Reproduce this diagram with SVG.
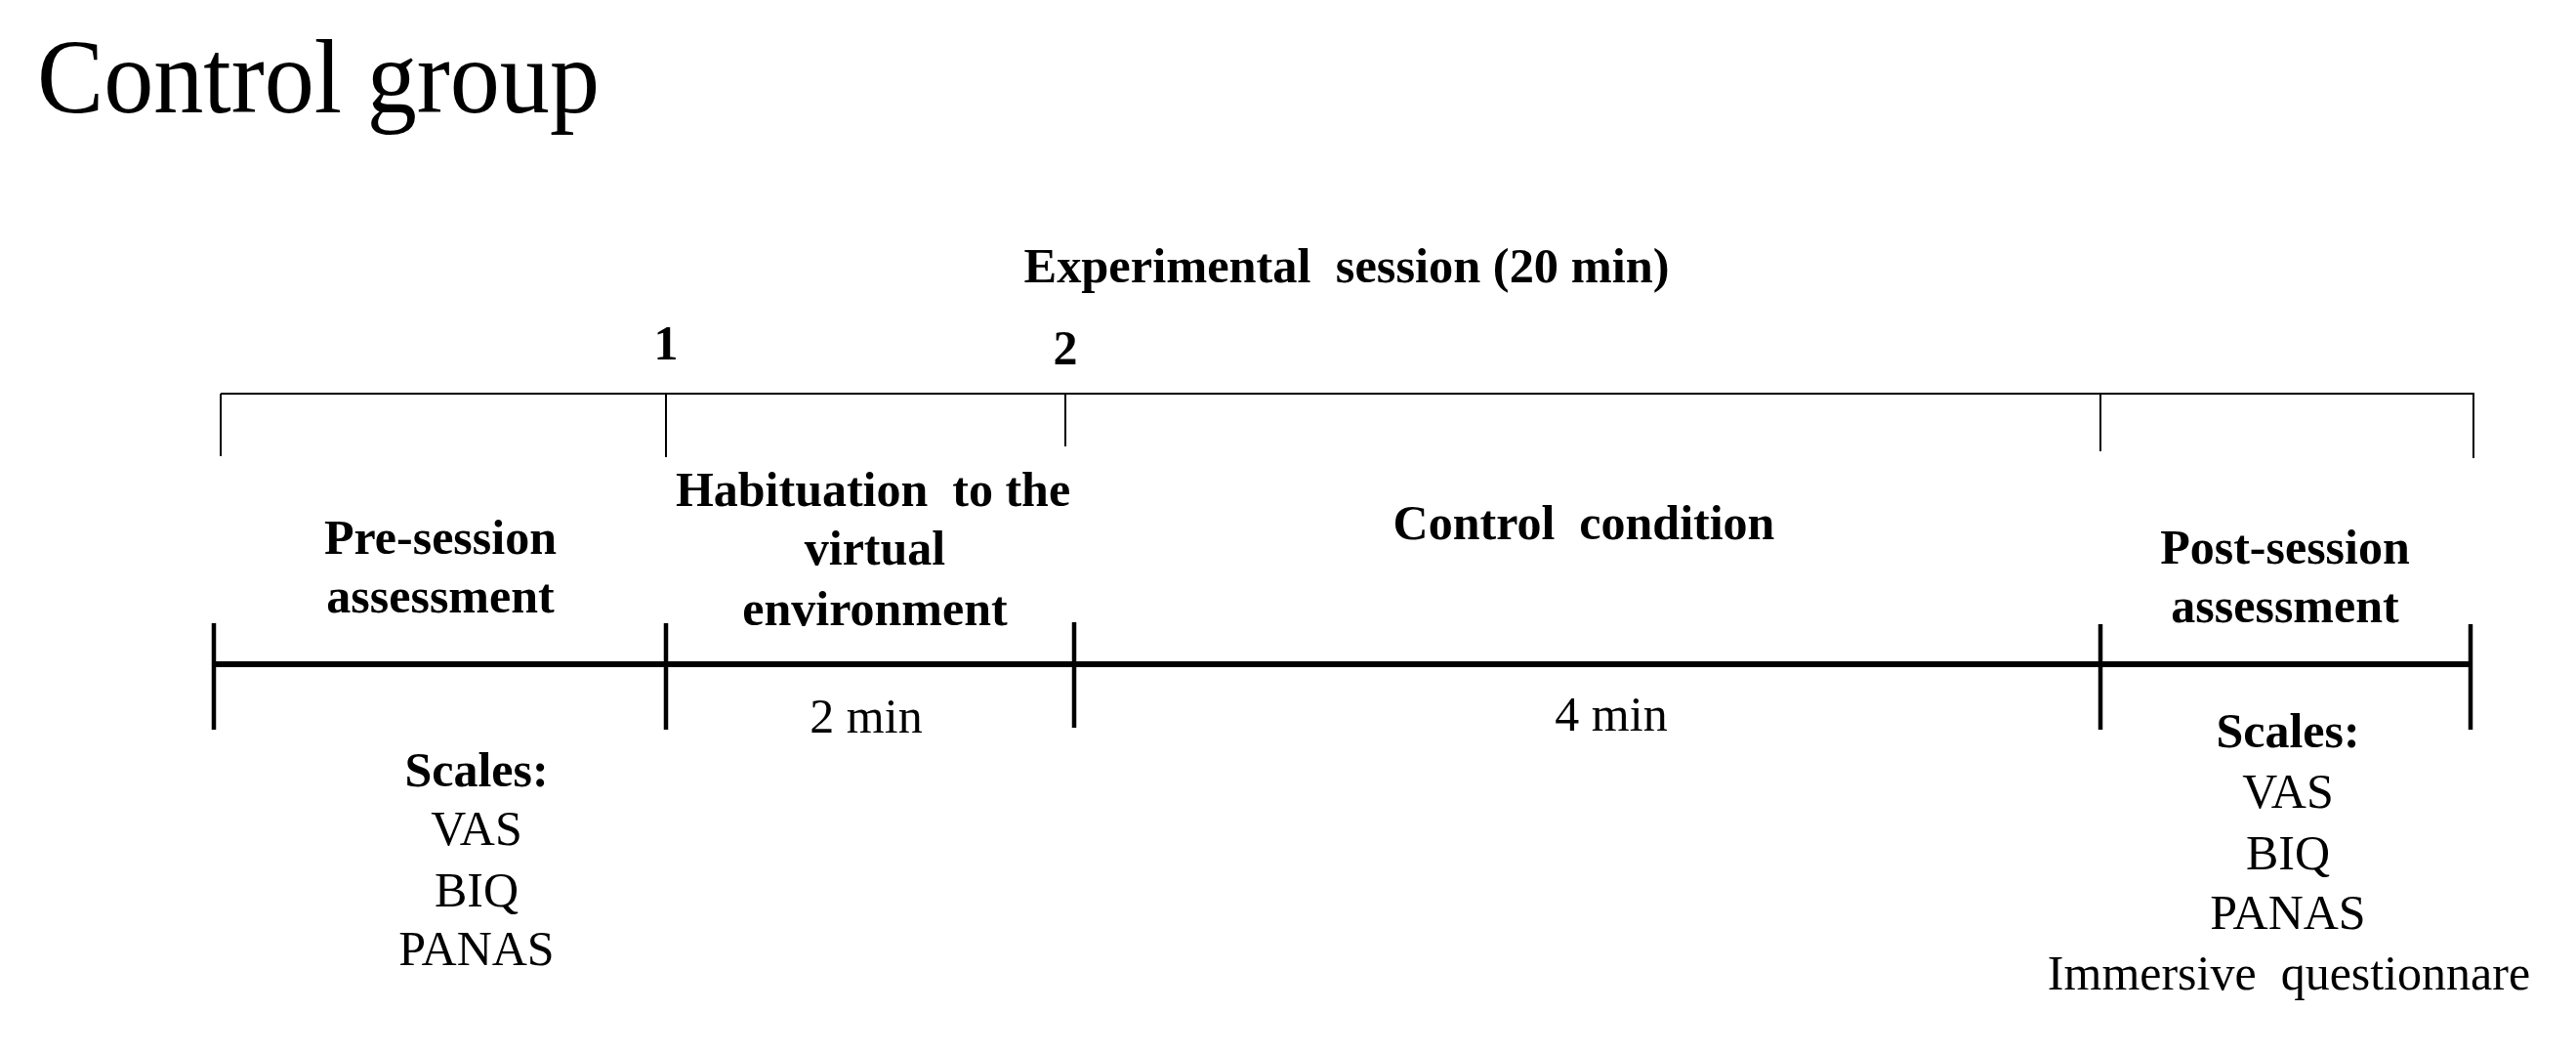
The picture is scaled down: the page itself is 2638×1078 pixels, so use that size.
<svg xmlns="http://www.w3.org/2000/svg" width="2638" height="1078" viewBox="0 0 2638 1078">
<style>
text{font-family:"Liberation Serif","Times New Roman",serif;fill:#000;}
.b{font-weight:bold;font-size:50px;text-anchor:middle;}
.r{font-size:50px;text-anchor:middle;}
.thin{stroke:#000;stroke-width:2;fill:none;}
.thick{stroke:#000;stroke-width:6;fill:none;}
.tick{stroke:#000;stroke-width:4.5;fill:none;}
</style>
<rect width="2638" height="1078" fill="#fff"/>
<g id="title"><text x="38" y="115" font-size="108" textLength="576" lengthAdjust="spacingAndGlyphs">Control group</text></g>
<g id="session-label"><text class="b" x="1379" y="289" textLength="661" lengthAdjust="spacingAndGlyphs" xml:space="preserve">Experimental  session (20 min)</text></g>
<g id="marker-1"><text class="b" x="682" y="368" font-size="54">1</text></g>
<g id="marker-2"><text class="b" x="1091" y="373" font-size="54">2</text></g>
<g id="connectors">
<path class="thin" d="M226 403 H2534"/>
<path class="thin" d="M226 403 V467 M682 403 V468 M1091 403 V457 M2151 403 V462 M2533 403 V469"/>
<path class="thick" d="M219 680 H2530"/>
<path class="tick" d="M219 638 V747 M682 638 V747 M1100 637 V745 M2151 639 V747 M2530 639 V747"/>
</g>
<g id="pre-session">
<text class="b" x="451" y="567">Pre-session</text>
<text class="b" x="451" y="627">assessment</text>
</g>
<g id="habituation">
<text class="b" x="894" y="518" xml:space="preserve">Habituation  to the</text>
<text class="b" x="896" y="578">virtual</text>
<text class="b" x="896" y="640">environment</text>
<text class="r" x="887" y="750">2 min</text>
</g>
<g id="control-condition">
<text class="b" x="1622" y="552" xml:space="preserve">Control  condition</text>
<text class="r" x="1650" y="748">4 min</text>
</g>
<g id="post-session">
<text class="b" x="2340" y="577">Post-session</text>
<text class="b" x="2340" y="637">assessment</text>
</g>
<g id="pre-scales">
<text class="b" x="488" y="805">Scales:</text>
<text class="r" x="488" y="865">VAS</text>
<text class="r" x="488" y="928">BIQ</text>
<text class="r" x="488" y="988">PANAS</text>
</g>
<g id="post-scales">
<text class="b" x="2343" y="765">Scales:</text>
<text class="r" x="2343" y="827">VAS</text>
<text class="r" x="2343" y="890">BIQ</text>
<text class="r" x="2343" y="951">PANAS</text>
<text class="r" x="2344" y="1013" xml:space="preserve">Immersive  questionnare</text>
</g>
</svg>
